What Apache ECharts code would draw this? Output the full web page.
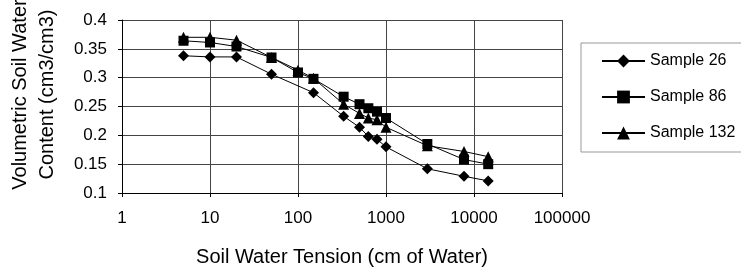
<!DOCTYPE html>
<html>
<head>
<meta charset="utf-8">
<script src="https://cdn.jsdelivr.net/npm/echarts@6/dist/echarts.min.js"></script>
<style>
  html, body { margin: 0; padding: 0; background: #fff; }
  #chart { width: 741px; height: 269px; }
</style>
</head>
<body>
<div id="chart"></div>
<script>
'use strict';

// soil water tension (cm of water)
var tension26 = [5, 10, 20, 50, 150, 330, 500, 630, 790, 1000, 2950, 7700, 14500];
var tensionAll = [5, 10, 20, 50, 100, 150, 330, 500, 630, 790, 1000, 2950, 7700, 14500];

// volumetric water content (cm3/cm3)
var sample26 = [0.338, 0.336, 0.336, 0.306, 0.274, 0.233, 0.214, 0.198, 0.193, 0.180, 0.142, 0.129, 0.121];
var sample86 = [0.364, 0.361, 0.354, 0.335, 0.309, 0.298, 0.267, 0.254, 0.247, 0.241, 0.230, 0.185, 0.158, 0.150];
var sample132 = [0.370, 0.370, 0.365, 0.335, 0.313, 0.299, 0.254, 0.238, 0.230, 0.227, 0.214, 0.182, 0.172, 0.163];

var names = ['Sample 26', 'Sample 86', 'Sample 132'];
var symbols = ['diamond', 'rect', 'triangle'];

function pairs(xs, ys) {
  return xs.map(function (x, i) { return [x, ys[i]]; });
}

var chart = echarts.init(document.getElementById('chart'));
var font = 'Liberation Sans, Arial, sans-serif';

function line(name, symbol, size, data) {
  return {
    name: name,
    type: 'line',
    data: data,
    symbol: symbol,
    symbolSize: size,
    itemStyle: { color: '#000' },
    lineStyle: { color: '#000', width: 1 },
    animation: false
  };
}

var option = {
  backgroundColor: '#fff',
  textStyle: { fontFamily: font, color: '#000' },
  grid: { left: 122, right: 179, top: 20, bottom: 76, outerBoundsMode: 'none', containLabel: false },
  legend: {
    orient: 'vertical',
    left: 581,
    top: 43,
    data: names,
    itemWidth: 43,
    itemHeight: 16,
    itemGap: 20,
    padding: [10, 14, 11, 20],
    borderColor: '#999',
    borderWidth: 1,
    backgroundColor: '#fff',
    textStyle: { fontFamily: font, fontSize: 16, color: '#000', lineHeight: 16 }
  },
  xAxis: {
    type: 'log',
    logBase: 10,
    min: 1,
    max: 100000,
    name: 'Soil Water Tension (cm of Water)',
    nameLocation: 'middle',
    nameGap: 54,
    nameTextStyle: { fontFamily: font, fontSize: 20, color: '#000' },
    axisLine: { lineStyle: { color: '#000', width: 1 } },
    axisTick: { show: true, length: 4, lineStyle: { color: '#000' } },
    axisLabel: {
      fontFamily: font, fontSize: 17, color: '#000', margin: 17,
      formatter: function (v) { return String(Math.round(v)); }
    },
    splitLine: { show: true, lineStyle: { color: '#444', width: 1 } },
    minorTick: { show: false }
  },
  yAxis: {
    type: 'value',
    min: 0.1,
    max: 0.4,
    interval: 0.05,
    name: 'Volumetric Soil Water\nContent (cm3/cm3)',
    nameLocation: 'middle',
    nameGap: 61,
    nameTextStyle: { fontFamily: font, fontSize: 20, color: '#000', lineHeight: 27, padding: [0, 0, 0, 24] },
    axisLine: { show: true, lineStyle: { color: '#000', width: 1 } },
    axisTick: { show: true, length: 4, lineStyle: { color: '#000' } },
    axisLabel: { fontFamily: font, fontSize: 17, color: '#000', margin: 15 },
    splitLine: { show: true, lineStyle: { color: '#444', width: 1 } }
  },
  series: [
    line(names[0], symbols[0], 11, pairs(tension26, sample26)),
    line(names[1], symbols[1], 10, pairs(tensionAll, sample86)),
    line(names[2], symbols[2], 11, pairs(tensionAll, sample132))
  ]
};

chart.setOption(option);
</script>
</body>
</html>
